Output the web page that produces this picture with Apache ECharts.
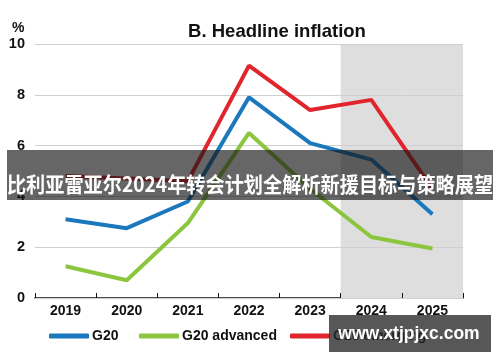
<!DOCTYPE html>
<html>
<head>
<meta charset="utf-8">
<script src="https://cdn.jsdelivr.net/npm/echarts@6/dist/echarts.min.js"></script>
<style>
html,body{margin:0;padding:0;background:#fff;}
#c{width:500px;height:362px;}
</style>
</head>
<body>
<div id="c"></div>
<script>
var years = ['2019','2020','2021','2022','2023','2024','2025'];
var g20 = [3.1, 2.75, 3.8, 7.9, 6.1, 5.45, 3.3];
var g20Advanced = [1.25, 0.7, 2.95, 6.5, 4.3, 2.4, 1.95];
var g20Emerging = [4.8, 4.7, 4.6, 9.15, 7.4, 7.8, 4.3];
var forecastShade = [null, null, null, null, null, 10, 10];
var yTicks = [0, 2, 4, 6, 8, 10];
var titleText = 'B. Headline inflation';
var bannerText = '比利亚雷亚尔2024年转会计划全解析新援目标与策略展望';
var watermarkText = 'www.xtjpjxc.com';

var FONT = '"Liberation Sans", Arial, sans-serif';
var BLUE = '#1b78bd', GREEN = '#8cc63e', RED = '#e1252d';

var chart = echarts.init(document.getElementById('c'), null, {renderer: 'canvas'});

function legendFor(name, left) {
  return {
    data: [{name: name, icon: 'roundRect'}],
    left: left, top: 324,
    itemWidth: 40, itemHeight: 5, itemGap: 0,
    selectedMode: false,
    textStyle: {fontFamily: FONT, fontWeight: 'bold', fontSize: 14, color: '#111', padding: [0, 0, 0, -2]}
  };
}

chart.setOption({
  animation: false,
  backgroundColor: '#ffffff',
  title: {
    text: titleText, left: 272, top: 17, textAlign: 'center',
    textStyle: {fontFamily: FONT, fontWeight: 'bold', fontSize: 18.5, color: '#111'}
  },
  grid: {left: 35, right: 37, top: 44, bottom: 64},
  legend: [legendFor('G20', 44), legendFor('G20 advanced', 134), legendFor('G20 emerging', 285)],
  xAxis: {
    type: 'category', data: years, boundaryGap: true,
    axisLine: {lineStyle: {color: '#111', width: 1.5}},
    axisTick: {show: true, inside: true, length: 5, lineStyle: {color: '#111', width: 1}},
    axisLabel: {fontFamily: FONT, fontWeight: 'bold', fontSize: 14, color: '#111', margin: 6}
  },
  yAxis: {
    type: 'value', min: yTicks[0], max: yTicks[yTicks.length - 1], interval: 2, z: 1,
    axisLine: {show: false}, axisTick: {show: false},
    splitLine: {lineStyle: {color: '#cfcfcf', width: 1.2}},
    axisLabel: {fontFamily: FONT, fontWeight: 'bold', fontSize: 14.5, color: '#111', margin: 10}
  },
  series: [
    {name: 'forecast', type: 'bar', data: forecastShade, barWidth: '100%', barGap: '-100%', z: 0,
     itemStyle: {color: '#dedede'}, silent: true},
    {name: 'G20', type: 'line', data: g20, symbol: 'none', z: 3,
     lineStyle: {color: BLUE, width: 4}, itemStyle: {color: BLUE}},
    {name: 'G20 advanced', type: 'line', data: g20Advanced, symbol: 'none', z: 3,
     lineStyle: {color: GREEN, width: 4}, itemStyle: {color: GREEN}},
    {name: 'G20 emerging', type: 'line', data: g20Emerging, symbol: 'none', z: 3,
     lineStyle: {color: RED, width: 4}, itemStyle: {color: RED}}
  ],
  graphic: [
    {type: 'text', left: 12, top: 21, z: 10,
     style: {text: '%', font: 'bold 14px ' + FONT, fill: '#111'}},
    {type: 'rect', shape: {x: 7, y: 150, width: 486, height: 50}, z: 100,
     style: {fill: 'rgba(20,20,20,0.65)'}},
    {type: 'text', x: 250, y: 184, z: 101, scaleX: 0.913, originX: 0,
     style: {text: bannerText, font: 'bold 21px "Noto Sans CJK SC", sans-serif', fill: '#ffffff',
             textAlign: 'center', textVerticalAlign: 'middle'}},
    {type: 'rect', shape: {x: 329, y: 315, width: 162, height: 37}, z: 100,
     style: {fill: 'rgba(40,40,40,0.78)'}},
    {type: 'text', x: 409, y: 334, z: 101,
     style: {text: watermarkText, font: 'bold 17.5px "Liberation Sans", Arial, sans-serif', fill: '#ffffff',
             textAlign: 'center', textVerticalAlign: 'middle'}}
  ]
});
</script>
</body>
</html>
